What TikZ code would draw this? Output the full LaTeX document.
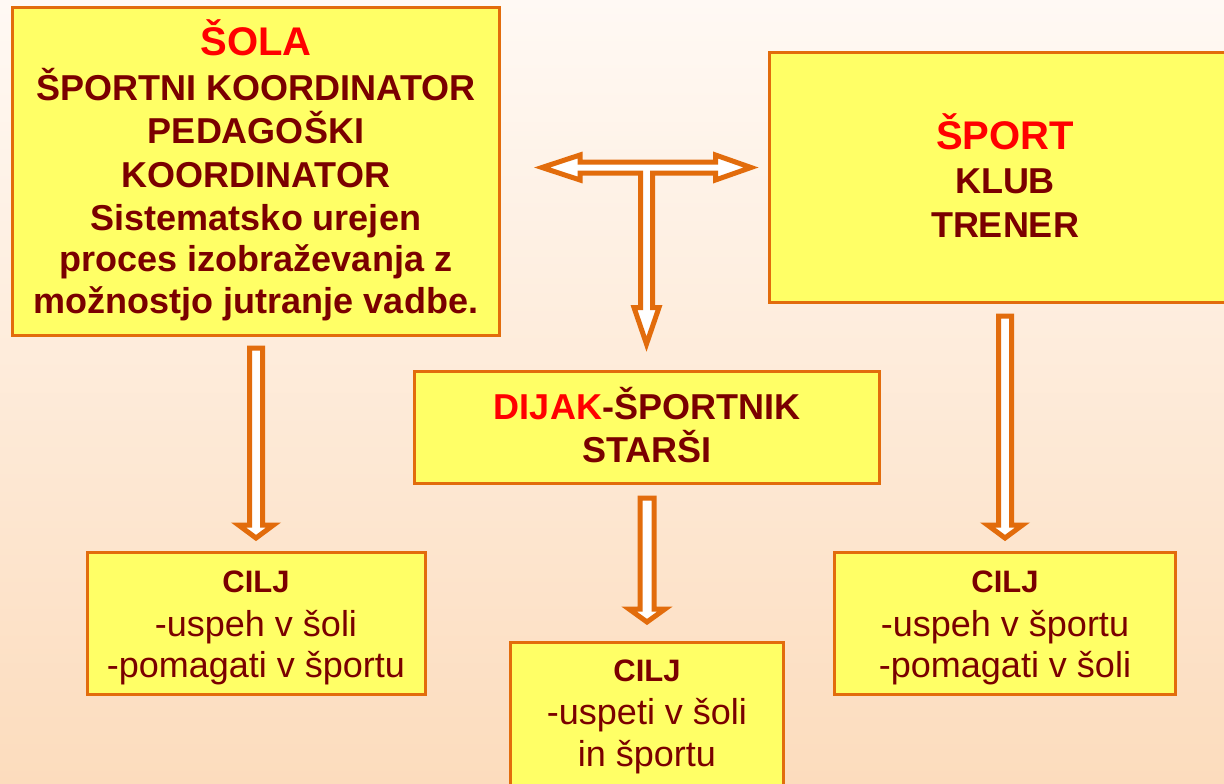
\documentclass[tikz,border=0pt]{standalone}
\usepackage{fontspec}
\setmainfont{Liberation Sans}
\definecolor{bgtop}{HTML}{FFF9F4}
\definecolor{bgbot}{HTML}{FCDCBD}
\definecolor{boxfill}{HTML}{FFFF66}
\definecolor{boxline}{HTML}{E26C0C}
\definecolor{txt}{HTML}{7A0000}
\definecolor{ttl}{HTML}{FF0000}
\tikzset{
  panel/.style={draw=boxline, fill=boxfill, line width=3pt, inner sep=0pt},
  bodyline/.style={anchor=base, inner sep=0pt, text=txt, font=\fontsize{36}{43}\selectfont\bfseries},
  goalhead/.style={anchor=base, inner sep=0pt, text=txt, font=\fontsize{31}{37}\selectfont\bfseries},
  plainline/.style={anchor=base, inner sep=0pt, text=txt, font=\fontsize{36}{43}\selectfont},
  titleline/.style={anchor=base, inner sep=0pt, text=ttl, font=\fontsize{40}{48}\selectfont\bfseries},
  blockarrow/.style={draw=boxline, fill=white, line width=5pt, line join=miter}
}
\begin{document}
\begin{tikzpicture}[x=1pt,y=-1pt]
\useasboundingbox (0,0) rectangle (1224,784);
\shade[top color=bgtop, bottom color=bgbot] (0,0) rectangle (1224,784);

% boxes
\draw[panel] (12,8) rectangle (499,335);
\draw[panel] (769,53) rectangle (1235,302);
\draw[panel] (414,371) rectangle (879,483);
\draw[panel] (87,552) rectangle (425,694);
\draw[panel] (510,642) rectangle (783,795);
\draw[panel] (834,552) rectangle (1175,694);

% SOLA text
\node[titleline] (s0) at (256,56) {ŠOLA};
\node[bodyline] (s1) at (256,100) {ŠPORTNI KOORDINATOR};
\node[bodyline] (s2) at (256,143) {PEDAGOŠKI};
\node[bodyline] (s3) at (256,187) {KOORDINATOR};
\node[bodyline] (s4) at (256,230) {Sistematsko urejen};
\node[bodyline] (s5) at (256,271) {proces izobraževanja z};
\node[bodyline] (s6) at (256,313) {možnostjo jutranje vadbe.};

% SPORT text
\node[titleline] (p0) at (1005,149) {ŠPORT};
\node[bodyline] (p1) at (1005,193) {KLUB};
\node[bodyline] (p2) at (1005,237) {TRENER};

% DIJAK text
\node[bodyline] (d1) at (647,419) {\textcolor{ttl}{DIJAK}-ŠPORTNIK};
\node[bodyline] (d2) at (647,462) {STARŠI};

% CILJ left
\node[goalhead] (a1) at (256,592) {CILJ};
\node[plainline] (a2) at (256,636) {-uspeh v šoli};
\node[plainline] (a3) at (256,677) {-pomagati v športu};

% CILJ middle
\node[goalhead] (b1) at (647,681) {CILJ};
\node[plainline] (b2) at (647,724) {-uspeti v šoli};
\node[plainline] (b3) at (647,766) {in športu};

% CILJ right
\node[goalhead] (c1) at (1005,592) {CILJ};
\node[plainline] (c2) at (1005,636) {-uspeh v športu};
\node[plainline] (c3) at (1005,677) {-pomagati v šoli};

% block arrows
\draw[blockarrow] (249.5,348) -- (262.5,348) -- (262.5,525) -- (273.5,525) -- (256,538) -- (238.5,525) -- (249.5,525) -- cycle;
\draw[blockarrow] (640,498) -- (654,498) -- (654,609) -- (665,609) -- (647,622) -- (629,609) -- (640,609) -- cycle;
\draw[blockarrow] (998.5,316) -- (1011.5,316) -- (1011.5,525) -- (1022.5,525) -- (1005,538) -- (987.5,525) -- (998.5,525) -- cycle;
\draw[blockarrow] (542,167.5) -- (580,155) -- (580,162) -- (715.5,162) -- (715.5,155) -- (751,167.5) -- (715.5,180) -- (715.5,173) -- (652.5,173) -- (652.5,307.5) -- (659,307.5) -- (646.5,344) -- (634,307.5) -- (640.5,307.5) -- (640.5,173) -- (580,173) -- (580,180) -- cycle;
\end{tikzpicture}
\end{document}
